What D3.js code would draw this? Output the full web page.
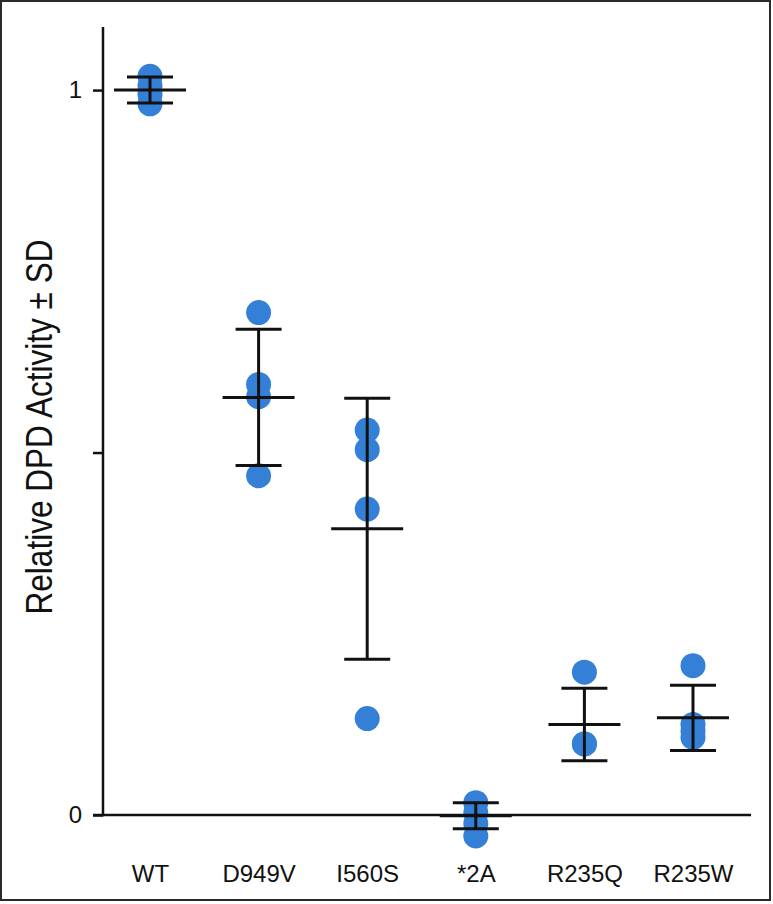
<!DOCTYPE html>
<html>
<head>
<meta charset="utf-8">
<script src="https://cdn.jsdelivr.net/npm/d3@7"></script>
<style>
  html, body { margin: 0; padding: 0; background: #fff; }
  svg { display: block; }
</style>
</head>
<body>
<script>
// ---- data ----
const categories = ["WT", "D949V", "I560S", "*2A", "R235Q", "R235W"];
const points = [
  [1.019, 1.006, 0.994, 0.981],
  [0.693, 0.594, 0.577, 0.468],
  [0.531, 0.504, 0.422, 0.133],
  [0.017, 0.003, -0.012, -0.029],
  [0.197, 0.098, 0.098],
  [0.206, 0.125, 0.116, 0.107]
];
const means = [1.0, 0.576, 0.395, -0.001, 0.125, 0.134];
const sds = [0.018, 0.094, 0.180, 0.018, 0.050, 0.045];
const yTickValues = [0, 0.5, 1];
const yTickLabels = ["0", "", "1"];
const yTitle = "Relative DPD Activity \u00b1 SD";

// ---- layout ----
const W = 773, H = 904;
const svg = d3.select("body").append("svg").attr("width", W).attr("height", H);

svg.append("rect").attr("x", 1).attr("y", 1).attr("width", 769).attr("height", 899)
  .attr("fill", "none").attr("stroke", "#2a2a2a").attr("stroke-width", 2);

const x = d3.scalePoint().domain(categories).range([150, 693]);
const y = d3.scaleLinear().domain([0, 1.087]).range([815, 27]);

const font = "'Liberation Sans', Arial, Helvetica, sans-serif";
const blue = "#3580d7";

// dots
categories.forEach((c, i) => {
  svg.append("g").selectAll("circle").data(points[i]).join("circle")
    .attr("cx", x(c)).attr("cy", d => y(d)).attr("r", 12.5)
    .attr("fill", blue);
});

// error bars
const eb = svg.append("g").attr("stroke", "#111").attr("stroke-width", 3).attr("fill", "none");
categories.forEach((c, i) => {
  const cx = x(c), m = means[i], s = sds[i];
  eb.append("line").attr("x1", cx).attr("x2", cx).attr("y1", y(m - s)).attr("y2", y(m + s));
  eb.append("line").attr("x1", cx - 23).attr("x2", cx + 23).attr("y1", y(m + s)).attr("y2", y(m + s));
  eb.append("line").attr("x1", cx - 23).attr("x2", cx + 23).attr("y1", y(m - s)).attr("y2", y(m - s));
  eb.append("line").attr("x1", cx - 36).attr("x2", cx + 36).attr("y1", y(m)).attr("y2", y(m));
});

// y axis
const yAxis = d3.axisLeft(y).tickValues(yTickValues)
  .tickFormat((d, i) => yTickLabels[i]).tickSize(10).tickPadding(11);
const gy = svg.append("g").attr("transform", "translate(103,0)").call(yAxis);
gy.select(".domain").remove();
gy.selectAll(".tick line").attr("stroke", "#111").attr("stroke-width", 2.5);
gy.selectAll(".tick text").attr("font-family", font).attr("font-size", 24).attr("fill", "#111");
svg.append("line").attr("x1", 103).attr("x2", 103).attr("y1", y(1.087)).attr("y2", y(0) + 1.25)
  .attr("stroke", "#111").attr("stroke-width", 2.5);

// x axis
const xAxis = d3.axisBottom(x).tickSize(0).tickPadding(50);
const gx = svg.append("g").attr("transform", `translate(0,${y(0)})`).call(xAxis);
gx.select(".domain").remove();
gx.selectAll(".tick text").attr("font-family", font).attr("font-size", 24).attr("fill", "#111");
svg.append("line").attr("x1", 93).attr("x2", 751).attr("y1", y(0)).attr("y2", y(0))
  .attr("stroke", "#111").attr("stroke-width", 2.5);

// y title
svg.append("text")
  .attr("transform", "translate(52,427) rotate(-90)")
  .attr("text-anchor", "middle")
  .attr("font-family", "'Liberation Sans Narrow', 'Liberation Sans', Arial, sans-serif")
  .attr("font-size", 36)
  .attr("textLength", 375).attr("lengthAdjust", "spacingAndGlyphs")
  .attr("fill", "#111")
  .text(yTitle);
</script>
</body>
</html>
